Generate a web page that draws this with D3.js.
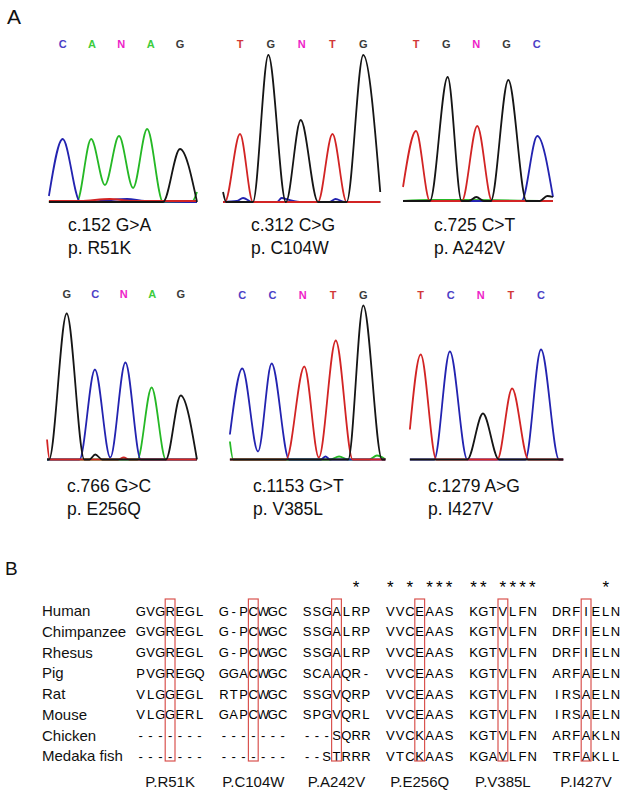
<!DOCTYPE html>
<html>
<head>
<meta charset="utf-8">
<script src="https://cdn.jsdelivr.net/npm/d3@7"></script>
<style>
  body { margin: 0; background: #fff; }
  text { font-family: "Liberation Sans", Arial, sans-serif; fill: #111; }
</style>
</head>
<body>
<svg id="fig" width="621" height="790"></svg>
<script>
// ---------- panel A : sequencing traces ----------
const baseCalls = [
  ['C', 'A', 'N', 'A', 'G'],
  ['T', 'G', 'N', 'T', 'G'],
  ['T', 'G', 'N', 'G', 'C'],
  ['G', 'C', 'N', 'A', 'G'],
  ['C', 'C', 'N', 'T', 'G'],
  ['T', 'C', 'N', 'T', 'C']
];
const cdnaLabels = ['c.152 G>A', 'c.312 C>G', 'c.725 C>T', 'c.766 G>C', 'c.1153 G>T', 'c.1279 A>G'];
const proteinLabels = ['p. R51K', 'p. C104W', 'p. A242V', 'p. E256Q', 'p. V385L', 'p. I427V'];

// trace knots: [position in base calls, signal]
const traceR51K = {
  G: [[-0.47, 0], [3.42, 0], [4.0, 53], [4.58, 0]],
  A: [[-0.47, 0], [0.48, 0], [0.97, 63], [1.44, 17], [1.92, 66], [2.4, 14], [2.88, 73], [3.42, 0], [4.4, 0], [4.58, 10]],
  C: [[-0.47, 6], [0, 63], [0.6, 0], [1.3, 1], [2.2, 3], [2.8, 1], [4.58, 0]],
  T: [[-0.47, 1], [0.6, 1], [1.6, 3], [2.4, 1], [3.4, 1], [4.58, 1]]
};
const traceC104W = {
  A: [[-0.55, 0], [4.55, 0]],
  C: [[-0.55, 0], [-0.1, 1], [0.1, 4], [0.4, 0], [1.2, 0], [1.35, 4], [1.6, 2], [2.0, 0], [2.9, 0], [3.1, 3], [3.4, 0], [4.55, 0]],
  T: [[-0.55, 0], [-0.49, 0], [0, 68], [0.42, 0], [2.53, 0], [3.0, 68], [3.46, 0], [4.55, 0]],
  G: [[-0.55, 10], [-0.45, 0], [0.42, 0], [0.92, 147], [1.49, 0], [1.97, 82], [2.53, 0], [3.46, 0], [4.0, 147], [4.55, 10]]
};
const traceA242V = {
  A: [[-0.43, 0], [0.5, 1], [1.5, 1], [4.54, 0]],
  T: [[-0.43, 14], [0, 70], [0.46, 0], [1.52, 0], [2.03, 75], [2.52, 0], [4.54, 0]],
  G: [[-0.43, 0], [0.46, 0], [1.05, 124], [1.51, 0], [1.75, 0], [2.0, 4], [2.25, 0], [2.48, 0], [3.06, 121], [3.66, 0], [4.1, 0], [4.35, 5], [4.54, 4]],
  C: [[-0.43, 0], [3.5, 0], [4.02, 65], [4.54, 4]]
};
const traceE256Q = {
  T: [[-0.69, 20], [-0.6, 0], [1.8, 0], [2.0, 2], [2.2, 0], [4.57, 0]],
  A: [[-0.69, 0], [2.48, 0], [2.98, 72], [3.48, 0], [4.57, 0]],
  C: [[-0.69, 0], [0.45, 0], [0.99, 90], [1.53, 2], [2.06, 97], [2.6, 0], [4.57, 0]],
  G: [[-0.69, 0], [-0.62, 0], [0, 146], [0.62, 0], [0.8, 0], [1.0, 5], [1.25, 0], [3.48, 0], [4.0, 64], [4.57, 0]]
};
const traceV385L = {
  A: [[-0.41, 18], [-0.3, 0], [2.9, 0], [3.2, 3], [3.5, 0], [4.2, 0], [4.45, 4], [4.73, 0]],
  C: [[-0.41, 25], [0, 91], [0.52, 8], [0.97, 96], [1.55, 0], [2.6, 0], [2.75, 3], [2.9, 0], [4.73, 0]],
  T: [[-0.41, 0], [1.45, 0], [2.05, 93], [2.53, 2], [3.09, 119], [3.65, 0], [4.73, 0]],
  G: [[-0.41, 0], [3.5, 0], [4.0, 154], [4.62, 0], [4.73, 0]]
};
const traceI427V = {
  G: [[-0.36, 0], [1.55, 0], [2.07, 46], [2.6, 0], [4.74, 0]],
  T: [[-0.36, 30], [0, 105], [0.52, 0], [2.55, 0], [3.04, 71], [3.58, 0], [4.74, 0]],
  C: [[-0.36, 0], [0.45, 0], [0.97, 108], [1.55, 0], [3.48, 0], [4.0, 110], [4.6, 0], [4.74, 0]]
};
const traces = [traceR51K, traceC104W, traceA242V, traceE256Q, traceV385L, traceI427V];

// ---------- panel B : alignment ----------
const species = ['Human', 'Chimpanzee', 'Rhesus', 'Pig', 'Rat', 'Mouse', 'Chicken', 'Medaka fish'];
const mutationLabels = ['P.R51K', 'P.C104W', 'P.A242V', 'P.E256Q', 'P.V385L', 'P.I427V'];
const blockR51K = ['GVGREGL', 'GVGREGL', 'GVGREGL', 'PVGREGQ', 'VLGGEGL', 'VLGGERL', '-------', '-------'];
const blockC104W = ['G-PCWGC', 'G-PCWGC', 'G-PCWGC', 'GGACWGC', 'RTPCWGC', 'GAPCWGC', '-------', '-------'];
const blockA242V = ['SSGALRP', 'SSGALRP', 'SSGALRP', 'SCAAQR-', 'SSGVQRP', 'SPGVQRL', '---SQRR', '--STRRR'];
const blockE256Q = ['VVCEAAS', 'VVCEAAS', 'VVCEAAS', 'VVCEAAS', 'VVCEAAS', 'VVCEAAS', 'VVCKAAS', 'VTCKAAS'];
const blockV385L = ['KGTVLFN', 'KGTVLFN', 'KGTVLFN', 'KGTVLFN', 'KGTVLFN', 'KGTVLFN', 'KGTVLFN', 'KGAVLFN'];
const blockI427V = ['DRFIELN', 'DRFIELN', 'DRFIELN', 'ARFAELN', 'IRSAELN', 'IRSAELN', 'ARFAKLN', 'TRFAKLL'];
const blocks = [blockR51K, blockC104W, blockA242V, blockE256Q, blockV385L, blockI427V];
const conservation = ['       ', '       ', '     * ', '* * ***', '** ****', '     * '];
const mutatedColumn = 3;

const svg = d3.select('#fig');

const dyeColor = { A: '#25b825', C: '#2323b0', G: '#151515', T: '#d22424' };
const callColor = { A: '#3ccc3c', C: '#4b40c6', G: '#3a3a3a', T: '#d23838', N: '#ee1ec8' };
const dyeOrder = ['A', 'C', 'T', 'G'];

// layout of the six trace panels
const panels = [
  { x0: 62.7, x4: 180, base: 202, callY: 44, lx: 68, ly: 231 },
  { x0: 240, x4: 363.3, base: 202, callY: 44, lx: 251, ly: 231 },
  { x0: 416, x4: 536.7, base: 201, callY: 44, lx: 434, ly: 231 },
  { x0: 66.7, x4: 180.7, base: 459.5, callY: 294, lx: 67, ly: 492 },
  { x0: 242.3, x4: 363.3, base: 459.5, callY: 295, lx: 253, ly: 492 },
  { x0: 420.7, x4: 541, base: 459.5, callY: 295, lx: 428, ly: 492 }
];

svg.append('text').attr('x', 7).attr('y', 24).attr('font-size', 21).text('A');
svg.append('text').attr('x', 5).attr('y', 575).attr('font-size', 19).text('B');

panels.forEach((p, i) => {
  const x = d3.scaleLinear().domain([0, 4]).range([p.x0, p.x4]);
  const y = d3.scaleLinear().domain([0, 150]).range([p.base, p.base - 150]);
  const line = d3.line()
    .x(d => x(d[0]))
    .y(d => y(d[1]))
    .curve(d3.curveMonotoneX);

  const g = svg.append('g');
  dyeOrder.filter(k => traces[i][k]).forEach(k => {
    g.append('path')
      .attr('d', line(traces[i][k]))
      .attr('fill', 'none')
      .attr('stroke', dyeColor[k])
      .attr('stroke-width', 1.8)
      .attr('stroke-linejoin', 'round');
  });

  g.selectAll('text.call')
    .data(baseCalls[i])
    .join('text')
    .attr('class', 'call')
    .attr('x', (d, j) => x(j))
    .attr('y', p.callY)
    .attr('dy', '0.35em')
    .attr('text-anchor', 'middle')
    .attr('font-family', '"Liberation Mono", monospace')
    .attr('font-weight', 'bold')
    .attr('font-size', 11)
    .style('fill', d => callColor[d])
    .text(d => d);

  g.append('text').attr('x', p.lx).attr('y', p.ly).attr('font-size', 17.5).text(cdnaLabels[i]);
  g.append('text').attr('x', p.lx).attr('y', p.ly + 23).attr('font-size', 17.5).text(proteinLabels[i]);
});

// ---------- alignment ----------
const blockX = d3.scalePoint().domain(mutationLabels).range([140.7, 556.7]);
const charX = d3.scaleLinear().domain([0, 6]).range([0, 58.8]);
const rowY = d3.scalePoint().domain(species).range([611, 756]);
const pitch = charX(1) - charX(0);

const ali = svg.append('g');

ali.selectAll('text.sp')
  .data(species)
  .join('text')
  .attr('class', 'sp')
  .attr('x', 42)
  .attr('y', d => rowY(d))
  .attr('dy', '0.35em')
  .attr('font-size', 15)
  .text(d => d);

blocks.forEach((rows, b) => {
  const bx = blockX(mutationLabels[b]);
  rows.forEach((seq, r) => {
    ali.selectAll(null)
      .data(seq.split(''))
      .join('text')
      .attr('x', (c, j) => bx + charX(j))
      .attr('y', rowY(species[r]))
      .attr('dy', '0.36em')
      .attr('text-anchor', 'middle')
      .attr('font-family', '"DejaVu Sans Mono", monospace')
      .attr('font-size', 13)
      .style('fill', '#000')
      .text(c => c);
  });

  ali.selectAll(null)
    .data(conservation[b].split(''))
    .join('text')
    .attr('x', (c, j) => bx + charX(j))
    .attr('y', rowY(species[0]) - 18)
    .attr('text-anchor', 'middle')
    .attr('font-family', '"DejaVu Sans Mono", monospace')
    .attr('font-size', 17)
    .style('fill', '#000')
    .text(c => c.trim());

  ali.append('rect')
    .attr('x', bx + charX(mutatedColumn) - pitch / 2)
    .attr('y', rowY(species[0]) - 12)
    .attr('width', pitch)
    .attr('height', rowY(species[species.length - 1]) - rowY(species[0]) + 17)
    .attr('fill', 'none')
    .attr('stroke', '#d9534f')
    .attr('stroke-width', 1.2);

  ali.append('text')
    .attr('x', bx + charX(mutatedColumn))
    .attr('y', 782)
    .attr('dy', '0.35em')
    .attr('text-anchor', 'middle')
    .attr('font-size', 15)
    .text(mutationLabels[b]);
});
</script>
</body>
</html>
